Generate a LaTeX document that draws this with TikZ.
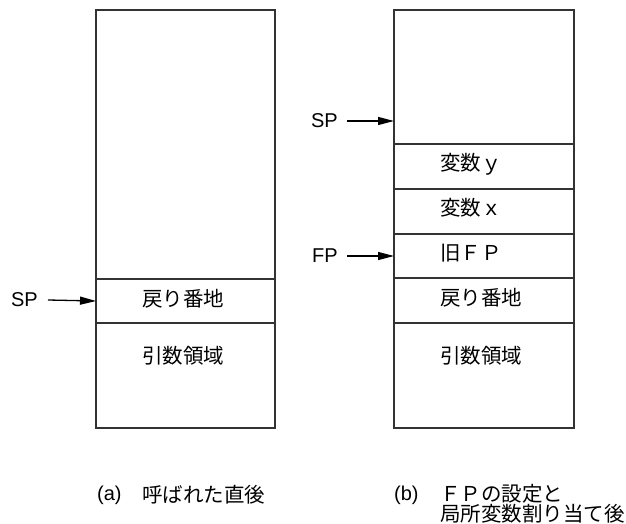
\documentclass[tikz,border=0pt]{standalone}
\usepackage{fontspec}
\setmainfont{Liberation Sans}
\newfontfamily\cjk{Noto Sans CJK JP}
\usetikzlibrary{arrows.meta}
\begin{document}
\begin{tikzpicture}[x=1pt,y=-1pt,
  cell/.style={draw=black!80,line width=1.3pt},
  lbl/.style={anchor=west,inner sep=0pt,font=\cjk\fontsize{20.5}{18}\selectfont},
  ptr/.style={anchor=east,inner sep=0pt,font=\fontsize{20}{20}\selectfont},
  captxt/.style={anchor=west,inner sep=0pt,font=\fontsize{20}{20}\selectfont},
  arr/.style={draw=black,line width=1.3pt,-{Triangle[length=16pt,width=8pt]}}]
\useasboundingbox (0,0) rectangle (626,524);
% ---- left stack (a)
\draw[cell] (96,10) rectangle (275,428);
\draw[cell] (96,279) -- (275,279);
\draw[cell] (96,323) -- (275,323);
\node[lbl] (la1) at (142,299) {戻り番地};
\node[lbl] (la2) at (142,356) {引数領域};
\node[ptr] (spa) at (38,300) {SP};
\coordinate (spat) at (96,301);
\draw[arr] ([xshift=10pt]spa.east) -- (spat);
% ---- right stack (b)
\draw[cell] (394,10) rectangle (574,428);
\foreach \yy in {144,189,234,278,323} \draw[cell] (394,\yy) -- (574,\yy);
\node[lbl] (lb1) at (440,164) {変数ｙ};
\node[lbl] (lb2) at (440,208) {変数ｘ};
\node[lbl] (lb3) at (440,253) {旧ＦＰ};
\node[lbl] (lb4) at (440,298) {戻り番地};
\node[lbl] (lb5) at (440,356) {引数領域};
\node[ptr] (spb) at (338,121) {SP};
\coordinate (spbt) at (394,121);
\draw[arr] ([xshift=9pt]spb.east) -- (spbt);
\node[ptr] (fpb) at (338,256) {FP};
\coordinate (fpbt) at (394,256);
\draw[arr] ([xshift=9pt]fpb.east) -- (fpbt);
% ---- captions
\node[captxt] (ca) at (97,495) {(a)};
\node[lbl] (cat) at (142,495) {呼ばれた直後};
\node[captxt] (cb) at (394,495) {(b)};
\node[lbl,align=left] (cbt) at (440,504) {ＦＰの設定と\\局所変数割り当て後};
\end{tikzpicture}
\end{document}
